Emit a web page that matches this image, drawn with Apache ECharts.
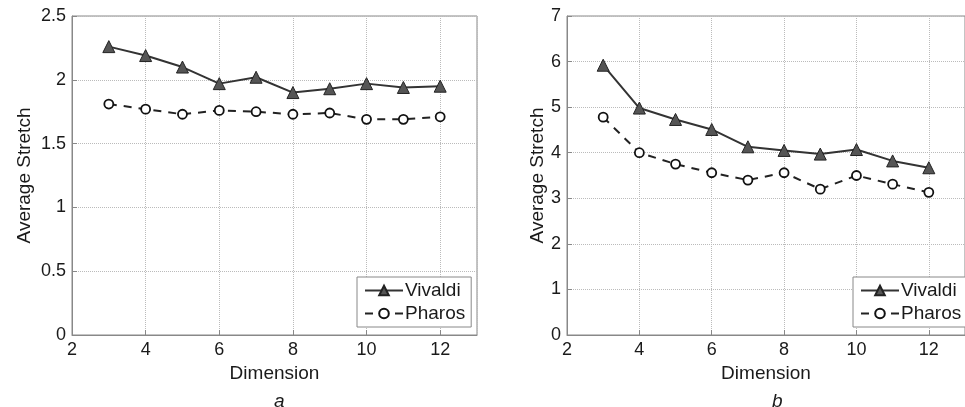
<!DOCTYPE html>
<html lang="en">
<head>
<meta charset="UTF-8">
<style>
html, body { height: 100%; margin: 0; background: #fff; }
</style>
</head>
<body>
<div id="chart" style="width:965px;height:407px;"></div>
<script src="https://cdn.jsdelivr.net/npm/echarts@6/dist/echarts.min.js"></script>
<script>
// dimensions on the x axis
var dims = [3, 4, 5, 6, 7, 8, 9, 10, 11, 12];
// panel a
var vivaldiA = [2.26, 2.19, 2.10, 1.97, 2.02, 1.90, 1.93, 1.97, 1.94, 1.95];
var pharosA = [1.81, 1.77, 1.73, 1.76, 1.75, 1.73, 1.74, 1.69, 1.69, 1.71];
// panel b
var vivaldiB = [5.92, 4.98, 4.73, 4.51, 4.13, 4.05, 3.97, 4.07, 3.82, 3.67];
var pharosB = [4.78, 4.00, 3.75, 3.56, 3.40, 3.56, 3.20, 3.50, 3.31, 3.13];

function pairs(ys) {
    return dims.map(function (d, i) { return [d, ys[i]]; });
}

var font = 'Liberation Sans, Arial, sans-serif';
var txt = '#1a1a1a';

function xAx(idx) {
    return {
        type: 'value', gridIndex: idx, min: 2, max: 13, interval: 2,
        name: 'Dimension', nameLocation: 'middle', nameGap: 27,
        nameTextStyle: { fontFamily: font, fontSize: 19, color: txt },
        axisLine: { onZero: false, lineStyle: { color: '#888' } },
        axisTick: { inside: true, length: 5, lineStyle: { color: '#888' } },
        axisLabel: { showMaxLabel: false, fontFamily: font, fontSize: 18, color: txt, margin: 6 },
        splitLine: { show: true, lineStyle: { type: 'dotted', color: '#bbb' } }
    };
}
function yAx(idx, max, step, gap) {
    return {
        type: 'value', gridIndex: idx, min: 0, max: max, interval: step,
        name: 'Average Stretch', nameLocation: 'middle', nameGap: gap,
        nameTextStyle: { fontFamily: font, fontSize: 19, color: txt },
        axisLine: { show: true, lineStyle: { color: '#888' } },
        axisTick: { show: true, inside: true, length: 5, lineStyle: { color: '#888' } },
        axisLabel: { fontFamily: font, fontSize: 18, color: txt, margin: 6 },
        splitLine: { show: true, lineStyle: { type: 'dotted', color: '#bbb' } }
    };
}
function viv(idx, ys) {
    return {
        name: 'Vivaldi', type: 'line', xAxisIndex: idx, yAxisIndex: idx,
        data: pairs(ys), symbol: 'triangle', symbolSize: 12,
        lineStyle: { color: '#333', width: 2 },
        itemStyle: { color: '#555', borderColor: '#222', borderWidth: 1 }
    };
}
function pha(idx, ys) {
    return {
        name: 'Pharos', type: 'line', xAxisIndex: idx, yAxisIndex: idx,
        data: pairs(ys), symbol: 'circle', symbolSize: 9,
        lineStyle: { color: '#222', width: 2, type: [8, 7] },
        itemStyle: { color: '#fff', borderColor: '#111', borderWidth: 1.8 }
    };
}
function leg(left) {
    return {
        orient: 'vertical', left: left, top: 277, itemGap: 4,
        itemWidth: 38, itemHeight: 12,
        padding: [4, 6, 4, 7],
        borderColor: '#888', borderWidth: 1, backgroundColor: '#fff',
        textStyle: { fontFamily: font, fontSize: 19, color: txt, padding: [0, 0, 0, -3] },
        data: ['Vivaldi', 'Pharos']
    };
}

var chart = echarts.init(document.getElementById('chart'));
chart.setOption({
    animation: false,
    grid: [
        { left: 72, top: 16, width: 405, height: 319, show: true, borderColor: '#888', borderWidth: 1 },
        { left: 567, top: 16, width: 409, height: 319, show: true, borderColor: '#888', borderWidth: 1 }
    ],
    xAxis: [xAx(0), xAx(1)],
    yAxis: [yAx(0, 2.5, 0.5, 38), yAx(1, 7, 1, 19)],
    legend: [leg(357), leg(853)],
    title: [
        { text: 'a', left: 269, top: 387, textStyle: { fontFamily: font, fontSize: 19, fontStyle: 'italic', fontWeight: 'normal', color: txt } },
        { text: 'b', left: 767, top: 387, textStyle: { fontFamily: font, fontSize: 19, fontStyle: 'italic', fontWeight: 'normal', color: txt } }
    ],
    series: [viv(0, vivaldiA), pha(0, pharosA), viv(1, vivaldiB), pha(1, pharosB)]
});
</script>
</body>
</html>
